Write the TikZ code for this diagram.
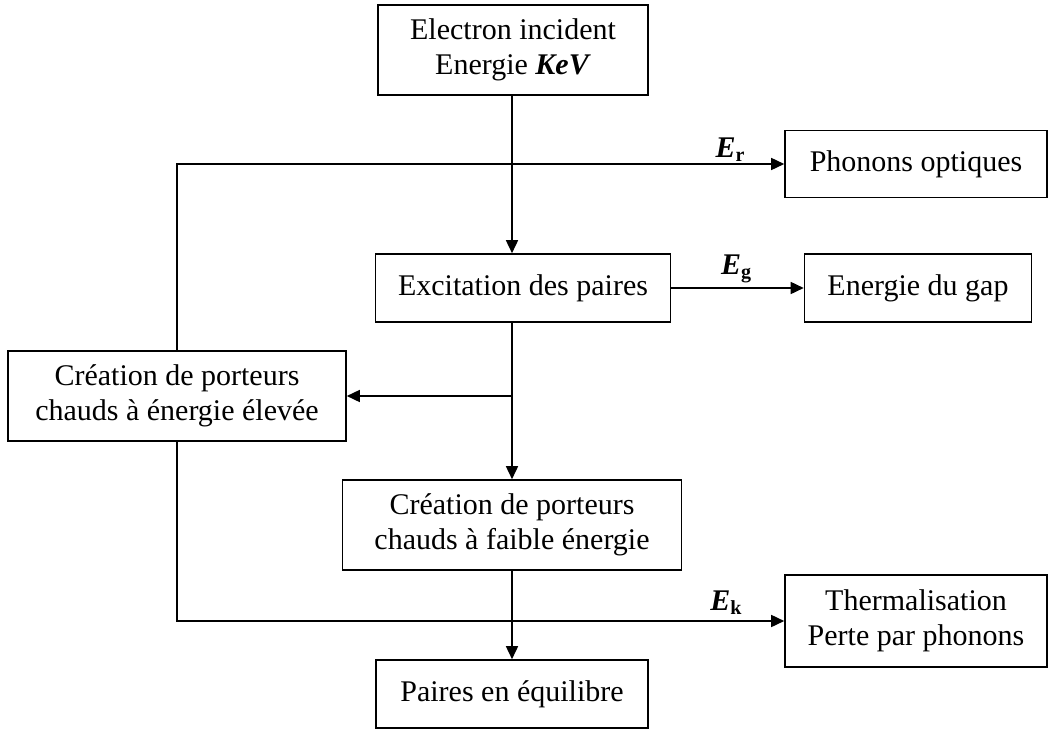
\documentclass[tikz,border=0pt]{standalone}
\usepackage{fontspec}
\setmainfont{Liberation Serif}
\usetikzlibrary{arrows.meta}
\newcommand\elab[2]{{\bfseries\itshape #1}\raisebox{-4pt}{\fontsize{20}{20}\selectfont\bfseries #2}}
\tikzset{
  box/.style={draw, line width=1.6pt, align=center, inner sep=0pt,
    font=\fontsize{30}{35}\selectfont},
  conn/.style={line width=1.6pt},
  arr/.style={conn, -{Triangle[length=13pt,width=12pt]}},
  lbl/.style={inner sep=0pt, anchor=base, font=\fontsize{30}{35}\selectfont}
}
\begin{document}
\begin{tikzpicture}[x=1pt,y=-1pt]
\useasboundingbox (0,0) rectangle (1048,730);
\coordinate (spine) at (512,0);
\node[box, minimum width=270pt, minimum height=90pt] (elec) at (513,50) {Electron incident\\Energie \textbf{\textit{KeV}}};
\node[box, minimum width=262pt, minimum height=67pt] (phon) at (916,164) {Phonons optiques};
\node[box, minimum width=295pt, minimum height=68pt] (exc) at (523,288) {Excitation des paires};
\node[box, minimum width=227pt, minimum height=68pt] (gap) at (918,288) {Energie du gap};
\node[box, minimum width=338pt, minimum height=90pt] (high) at (177,396) {Création de porteurs\\chauds à énergie élevée};
\node[box, minimum width=339pt, minimum height=90pt] (low) at (512,525) {Création de porteurs\\chauds à faible énergie};
\node[box, minimum width=262pt, minimum height=92pt] (therm) at (916,621) {Thermalisation\\Perte par phonons};
\node[box, minimum width=272pt, minimum height=68pt] (pair) at (512,694) {Paires en équilibre};

\draw[arr] (elec.south -| spine) -- (exc.north -| spine);
\draw[arr] (exc.south -| spine) -- (low.north);
\draw[arr] (spine |- high.east) -- (high.east);
\draw[arr] (low.south) -- (pair.north);
\draw[arr] (exc.east) -- (gap.west);
\draw[arr] (high.north) |- (phon.west);
\draw[arr] (high.south) |- (therm.west);

\node[lbl] (er) at (730,158) {\elab{E}{r}};
\node[lbl] (eg) at (736,274) {\elab{E}{g}};
\node[lbl] (ek) at (726,610) {\elab{E}{k}};
\end{tikzpicture}
\end{document}
